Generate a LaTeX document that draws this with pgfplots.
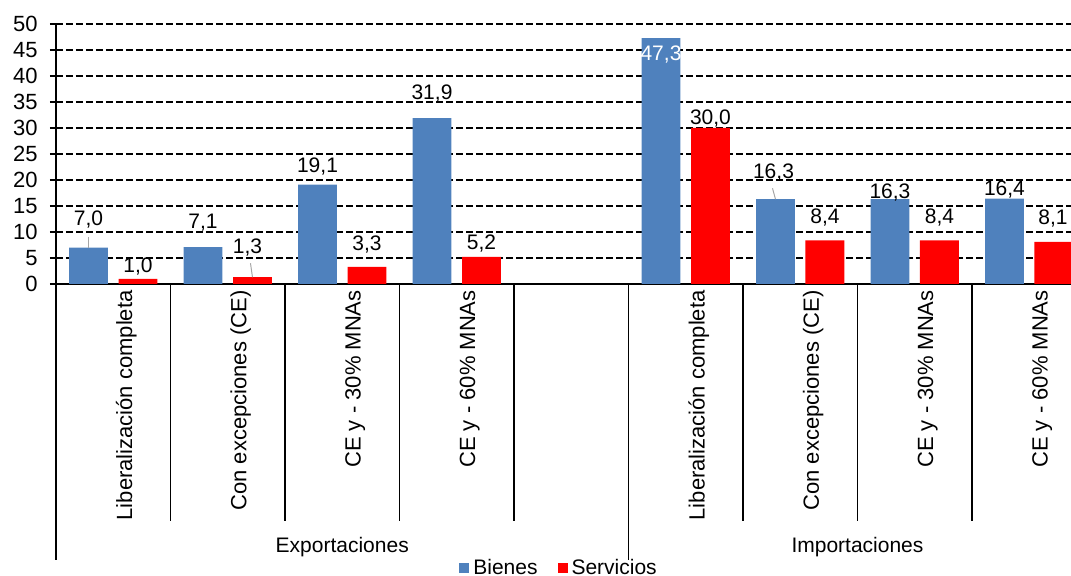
\documentclass[border=0pt]{standalone}
\usepackage{pgfplots}
\pgfplotsset{compat=1.18}
\usepackage{pgfplotstable}
\usepackage{fontspec}
\setmainfont{Liberation Sans}

\definecolor{bienes}{HTML}{4F81BD}
\definecolor{servicios}{HTML}{FF0000}

% x = category, dx/dy = label offset (pt), lc = % white in label colour
\pgfplotstableread{
x y dx dy lc
0 7.0 0 14 0
1 7.1 0 12 0
2 19.1 0 9 0
3 31.9 0 12.5 0
5 47.3 0 -8.25 100
6 16.3 -1 13.5 0
7 16.3 0 3.2 0
8 16.4 0 4.5 0
}\bienes

\pgfplotstableread{
x y dx dy lc
0 1.0 0 6 0
1 1.3 -2.5 15 0
2 3.3 0 11 0
3 5.2 0 6.5 0
5 30.0 0 4.5 0
6 8.4 0 11.5 0
7 8.4 0 11.5 0
8 8.1 -0.5 11.5 0
}\servicios

\newcommand\fnt{\fontsize{10.5}{12.6}\selectfont}
\newcommand\tfnt{\fontsize{11}{13.2}\selectfont}

\pgfplotsset{
  vlabels/.style={
    nodes near coords={\pgfmathprintnumber[fixed, fixed zerofill, precision=1, use comma, assume math mode=true]{\pgfplotspointmeta}},
    nodes near coords align={center},
    visualization depends on={\thisrow{dx} \as \labdx},
    visualization depends on={\thisrow{dy} \as \labdy},
    visualization depends on={\thisrow{lc} \as \labc},
    every node near coord/.append style={anchor=center, inner sep=0pt, font=\fnt,
      xshift=\labdx pt, yshift=\labdy pt, text=white!\labc!black},
  },
}

\begin{document}
\begin{tikzpicture}[font=\fnt]
\begin{axis}[
  name=ax,
  width=507.5pt, height=130pt, scale only axis,
  ybar, bar width=0.34,
  xmin=-0.5, xmax=8.365,
  ymin=0, ymax=50, ytick={0,5,...,50},
  ymajorgrids,
  grid style={black, line width=0.6pt, dash pattern=on 3.3pt off 1.7pt},
  axis x line*=bottom, axis y line*=left,
  axis line style={black, line width=0.6pt, -},
  xtick={0,1,2,3,5,6,7,8},
  xticklabels={Liberalización completa, Con excepciones (CE), CE y - 30\% MNAs, CE y - 60\% MNAs,
    Liberalización completa, Con excepciones (CE), CE y - 30\% MNAs, CE y - 60\% MNAs},
  x tick label style={rotate=90, anchor=east, inner sep=0pt, yshift=-6.5pt, font=\tfnt},
  xtick style={draw=none},
  y tick label style={anchor=east, inner sep=0pt, xshift=-6pt, font=\tfnt},
  ytick style={black, line width=0.6pt},
  tick align=outside, major tick length=3pt,
  /pgf/number format/assume math mode=true,
  clip=false,
  legend style={at={(0.4966,-1.0923)}, anchor=center, draw=none, fill=none,
    legend columns=2, font=\fnt,
    /tikz/every even column/.append style={column sep=8pt}},
]
\addplot[fill=bienes, draw=none, bar shift=-0.216, vlabels,
  legend image code/.code={\fill[bienes] (0pt,-2.5pt) rectangle (5pt,2.5pt);}]
  table[x=x, y=y] {\bienes};
\addlegendentry{Bienes}
\addplot[fill=servicios, draw=none, bar shift=0.216, vlabels,
  legend image code/.code={\fill[servicios] (0pt,-2.5pt) rectangle (5pt,2.5pt);}]
  table[x=x, y=y] {\servicios};
\addlegendentry{Servicios}

% leader lines
\draw[gray!70, line width=0.5pt] (axis cs:-0.216,7.0) -- ++(0pt,5.5pt);
\draw[gray!70, line width=0.5pt] (axis cs:1.216,1.3) -- ++(-1pt,7pt);
\draw[gray!70, line width=0.5pt] (axis cs:5.784,16.3) -- ++(-1.5pt,5.5pt);

% category separators
\draw[black, line width=0.6pt] (axis cs:-0.5,0) -- ++(0pt,-138pt);
\draw[black, line width=0.6pt] (axis cs:4.5,0) -- ++(0pt,-138pt);
\draw[black, line width=0.6pt] (axis cs:0.5,0) -- ++(0pt,-118.5pt);
\draw[black, line width=0.6pt] (axis cs:1.5,0) -- ++(0pt,-118.5pt);
\draw[black, line width=0.6pt] (axis cs:2.5,0) -- ++(0pt,-118.5pt);
\draw[black, line width=0.6pt] (axis cs:3.5,0) -- ++(0pt,-118.5pt);
\draw[black, line width=0.6pt] (axis cs:5.5,0) -- ++(0pt,-118.5pt);
\draw[black, line width=0.6pt] (axis cs:6.5,0) -- ++(0pt,-118.5pt);
\draw[black, line width=0.6pt] (axis cs:7.5,0) -- ++(0pt,-118.5pt);

% group labels
\node at ([yshift=-131.5pt]axis cs:2,0) {Exportaciones};
\node at ([yshift=-131.5pt]axis cs:6.5,0) {Importaciones};
\end{axis}
\pgfresetboundingbox
\path[use as bounding box] ([xshift=-28pt,yshift=-146pt]ax.south west)
  rectangle ([xshift=507.5pt,yshift=142pt]ax.south west);
\end{tikzpicture}
\end{document}
